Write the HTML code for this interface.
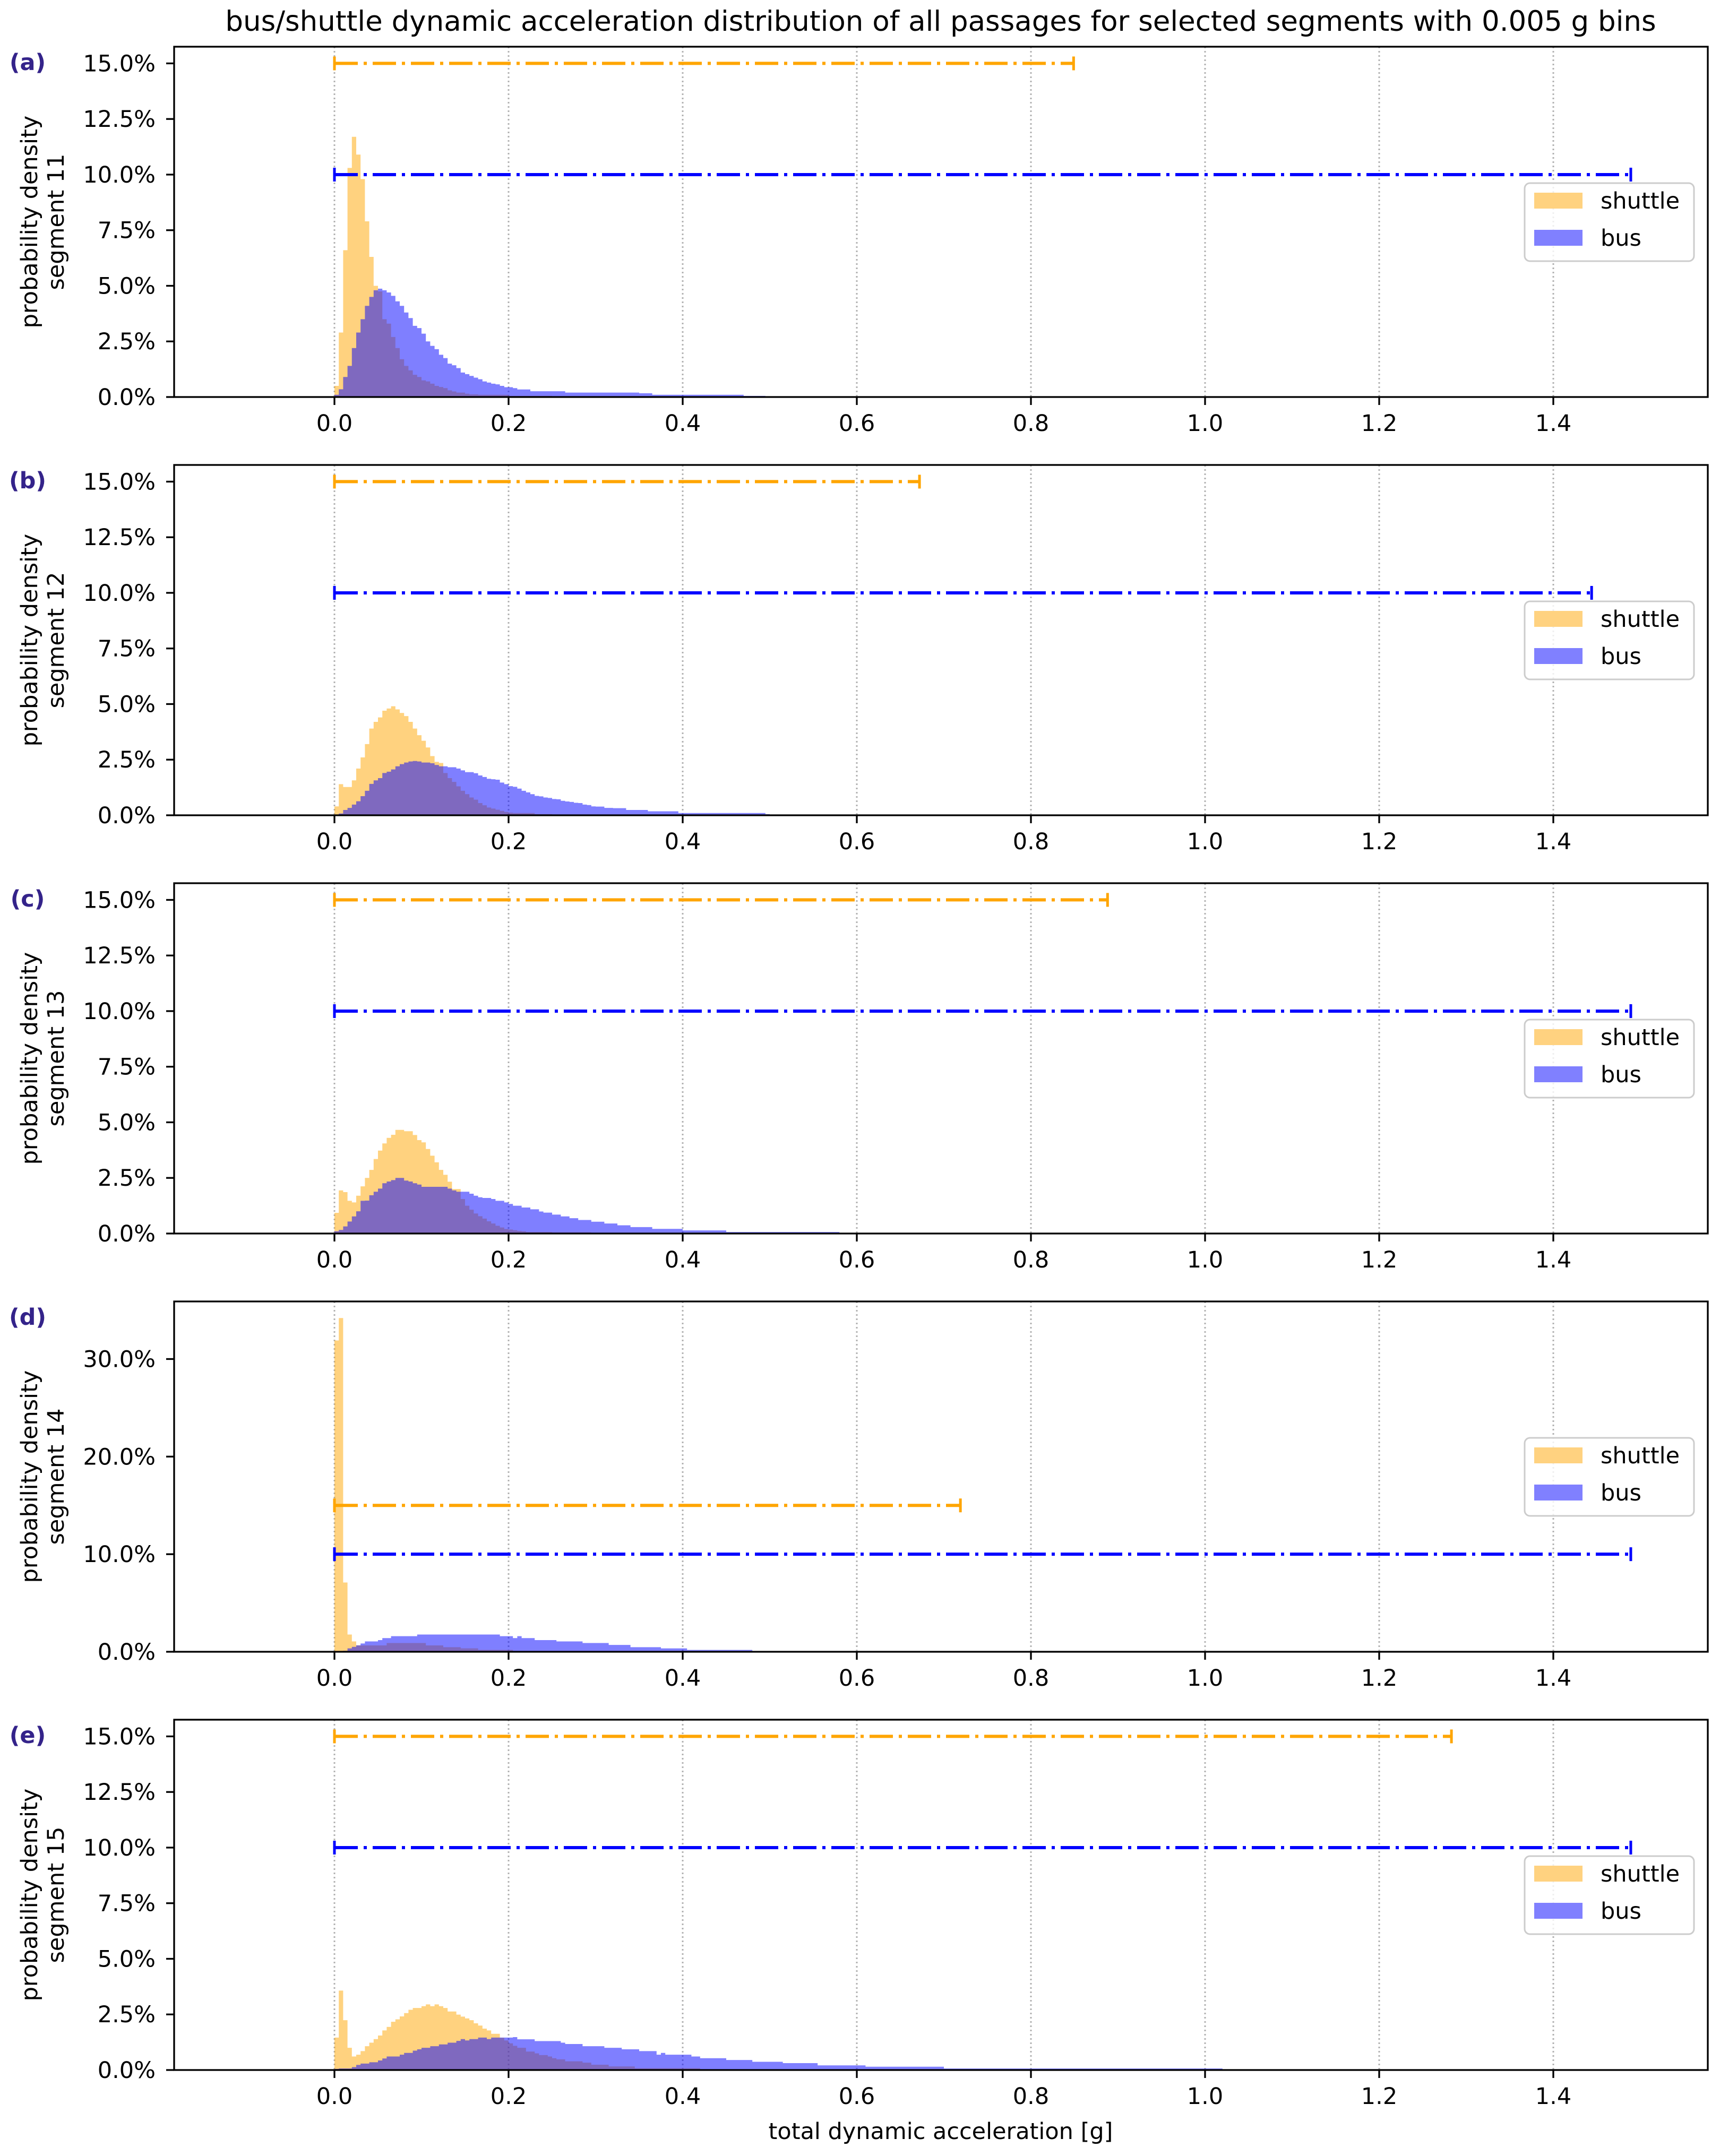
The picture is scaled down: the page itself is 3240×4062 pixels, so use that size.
<!DOCTYPE html>
<html><head><meta charset="utf-8"><style>
html,body{margin:0;padding:0;background:#fff;}
svg{display:block;font-family:"DejaVu Sans","Liberation Sans",sans-serif;}
</style></head><body>
<svg id="chart" xmlns="http://www.w3.org/2000/svg" width="3240" height="4062" viewBox="0 0 3240 4062">
<rect x="0" y="0" width="3240" height="4062" fill="#fff"/>
<text x="1772" y="58" text-anchor="middle" font-size="53" fill="#000">bus/shuttle dynamic acceleration distribution of all passages for selected segments with 0.005 g bins</text>
<text x="1772" y="4030" text-anchor="middle" font-size="43" fill="#000">total dynamic acceleration [g]</text>
<g id="panels"></g>
</svg>
<script>
const binWidth = 0.005;
const xTicks = [0.0, 0.2, 0.4, 0.6, 0.8, 1.0, 1.2, 1.4];
const xTickLabels = ["0.0","0.2","0.4","0.6","0.8","1.0","1.2","1.4"];
const panelLetters = ["(a)","(b)","(c)","(d)","(e)"];
const segmentNames = ["segment 11","segment 12","segment 13","segment 14","segment 15"];
const yTicksStd = [0, 2.5, 5, 7.5, 10, 12.5, 15];
const yTicksD = [0, 10, 20, 30];
const yMaxes = [15.75, 15.75, 15.75, 35.9, 15.75];
const shuttleRangeEnd = [0.849, 0.672, 0.888, 0.719, 1.283];
const busRangeEnd = [1.489, 1.444, 1.489, 1.489, 1.489];
const shuttleRangeLevel = [15, 15, 15, 15, 15];
const busRangeLevel = [10, 10, 10, 10, 10];

const shuttleA = [0.5,2.9,6.6,10.3,11.7,10.9,9.8,7.9,6.3,5.0, 4.75,3.5,3.3,2.7,2.2,1.7,1.4,1.2,1.0,0.9, 0.75,0.7,0.6,0.5,0.45,0.4,0.3,0.25,0.2,0.2, 0.15,0.12,0.12,0.1,0.1,0.1,0.1,0.1,0.1,0.1, 0.05,0.05,0.05,0.05,0.05,0.05,0.05,0.05,0.05,0.05];
const busA = [0.1,0.35,0.9,1.4,2.2,2.9,3.5,4.1,4.5,4.8, 4.87,4.8,4.7,4.55,4.3,4.1,3.8,3.55,3.2,3.1, 2.85,2.5,2.3,2.15,1.9,1.75,1.5,1.43,1.3,1.1, 1.03,0.95,0.87,0.8,0.7,0.65,0.6,0.57,0.5,0.44, 0.44,0.4,0.34,0.34,0.34,0.26,0.26,0.26,0.26,0.26, 0.26,0.26,0.26,0.2,0.2,0.2,0.2,0.2,0.2,0.2, 0.2,0.2,0.2,0.2,0.2,0.2,0.2,0.2,0.2,0.2, 0.17,0.17,0.17,0.1,0.1,0.1,0.1,0.1,0.1,0.1, 0.1,0.1,0.1,0.1,0.1,0.1,0.1,0.1,0.1,0.1, 0.1,0.1,0.1,0.1,0.05,0.05,0.05,0.05,0.05];
const shuttleB = [0.4,1.4,1.27,1.27,1.57,2.1,2.6,3.2,3.9,4.2, 4.4,4.7,4.8,4.9,4.76,4.6,4.46,4.2,3.9,3.6, 3.35,3.05,2.66,2.4,2.35,1.9,1.67,1.5,1.3,1.1, 0.95,0.8,0.7,0.55,0.45,0.35,0.3,0.25,0.2,0.15, 0.12,0.1,0.1,0.1,0.1,0.1,0.05,0.05,0.05,0.05];
const busB = [0,0.08,0.24,0.33,0.48,0.63,0.86,1.1,1.41,1.57, 1.67,1.9,1.96,2.06,2.2,2.3,2.37,2.42,2.44,2.42, 2.37,2.37,2.34,2.26,2.2,2.2,2.16,2.16,2.1,2.02, 1.94,1.94,1.89,1.79,1.72,1.64,1.62,1.6,1.47,1.4, 1.31,1.28,1.2,1.1,1.03,0.95,0.87,0.85,0.8,0.78, 0.73,0.72,0.65,0.62,0.6,0.56,0.55,0.48,0.46,0.4, 0.39,0.39,0.33,0.33,0.32,0.32,0.32,0.24,0.24,0.24, 0.24,0.24,0.18,0.18,0.18,0.18,0.18,0.18,0.18,0.1, 0.1,0.1,0.1,0.1,0.1,0.1,0.1,0.1,0.1,0.1, 0.1,0.1,0.1,0.1,0.1,0.1,0.1,0.1,0.1,0.05];
const shuttleC = [0.93,1.94,1.86,1.47,1.4,1.7,2.12,2.5,2.86,3.35, 3.73,4.05,4.3,4.44,4.66,4.66,4.6,4.6,4.43,4.2, 4.1,3.8,3.5,3.2,2.86,2.64,2.33,2.0,2.0,1.55, 1.25,1.07,0.9,0.78,0.67,0.55,0.45,0.35,0.27,0.2, 0.18,0.15,0.12,0.1,0.07,0.07,0.07,0.07,0.07,0.07, 0.05,0.05,0.05,0.05,0.05,0.05,0.05,0.05,0.05];
const busC = [0.1,0.16,0.32,0.54,0.77,1.0,1.47,1.48,1.72,1.88, 2.02,2.26,2.34,2.4,2.5,2.5,2.38,2.34,2.26,2.2, 2.1,2.1,2.1,2.1,2.1,2.1,2.02,1.94,1.88,1.88, 1.88,1.79,1.7,1.63,1.6,1.6,1.55,1.47,1.47,1.4, 1.33,1.25,1.25,1.17,1.17,1.09,1.09,0.99,0.94,0.94, 0.85,0.85,0.77,0.77,0.69,0.69,0.61,0.61,0.61,0.53, 0.53,0.53,0.45,0.45,0.45,0.37,0.37,0.37,0.29,0.29, 0.29,0.29,0.29,0.21,0.21,0.21,0.21,0.21,0.21,0.21, 0.14,0.14,0.14,0.14,0.14,0.14,0.14,0.14,0.14,0.14, 0.07,0.07,0.07,0.07,0.07,0.07,0.07,0.07,0.07,0.07, 0.07,0.07,0.07,0.07,0.07,0.07,0.07,0.07,0.07,0.07, 0.07,0.07,0.07,0.07,0.07,0.07];
const shuttleD = [31.9,34.2,7.1,1.77,1.06,0.66,0.65,0.65,0.65,0.65, 0.65,0.65,0.9,0.9,0.9,0.9,0.9,0.9,0.9,0.9, 0.9,0.65,0.65,0.65,0.65,0.47,0.47,0.47,0.47,0.35, 0.35,0.35,0.35,0.2,0.2,0.2,0.2,0.2,0.2,0.2,0.2];
const busD = [0,0,0.1,0.35,0.5,0.66,0.85,1.06,1.06,1.06, 1.2,1.4,1.4,1.6,1.6,1.6,1.6,1.6,1.6,1.77, 1.77,1.77,1.77,1.77,1.77,1.77,1.77,1.77,1.77,1.77, 1.77,1.77,1.77,1.77,1.77,1.77,1.77,1.77,1.6,1.6, 1.6,1.4,1.6,1.4,1.4,1.4,1.2,1.2,1.2,1.2, 1.2,1.06,1.06,1.06,1.06,1.06,1.06,0.9,0.9,0.9, 0.9,0.9,0.9,0.7,0.7,0.7,0.7,0.7,0.47,0.47, 0.47,0.47,0.47,0.47,0.47,0.35,0.35,0.35,0.35,0.35, 0.35,0.19,0.19,0.19,0.19,0.19,0.19,0.19,0.19,0.19, 0.19,0.19,0.19,0.19,0.19,0.19];
const shuttleE = [1.46,3.57,2.24,1.0,0.61,0.69,0.85,1.07,1.23,1.39, 1.55,1.78,1.94,2.17,2.28,2.41,2.56,2.71,2.79,2.79, 2.87,2.95,2.87,2.95,2.87,2.79,2.63,2.63,2.49,2.4, 2.32,2.24,2.1,2.0,1.86,1.78,1.63,1.63,1.45,1.33, 1.2,1.09,1.0,1.0,0.83,0.83,0.75,0.67,0.67,0.61, 0.53,0.48,0.48,0.39,0.39,0.39,0.39,0.33,0.33,0.24, 0.24,0.24,0.24,0.16,0.16,0.16,0.16,0.16,0.16,0.08, 0.08,0.08,0.08,0.08,0.08,0.08,0.08,0.08,0.08,0.08, 0.08,0.08,0.08,0.08];
const busE = [0.05,0.07,0.07,0.07,0.13,0.23,0.29,0.29,0.35,0.35, 0.43,0.52,0.61,0.61,0.61,0.69,0.77,0.77,0.87,0.93, 1.0,1.0,1.07,1.07,1.15,1.15,1.23,1.23,1.31,1.39, 1.33,1.39,1.39,1.46,1.46,1.39,1.46,1.46,1.46,1.46, 1.46,1.48,1.38,1.38,1.38,1.38,1.3,1.3,1.3,1.3, 1.3,1.3,1.23,1.17,1.17,1.17,1.17,1.07,1.07,1.07, 1.07,1.07,1.0,1.0,1.0,1.0,0.93,0.93,0.93,0.93, 0.85,0.85,0.85,0.85,0.69,0.77,0.69,0.69,0.69,0.69, 0.69,0.69,0.61,0.61,0.53,0.53,0.53,0.53,0.53,0.53, 0.45,0.45,0.45,0.45,0.45,0.45,0.37,0.37,0.37,0.37, 0.37,0.37,0.37,0.31,0.31,0.31,0.31,0.31,0.31,0.31, 0.31,0.21,0.21,0.21,0.21,0.21,0.21,0.21,0.21,0.21, 0.21,0.21,0.15,0.15,0.15,0.15,0.15,0.15,0.15,0.15, 0.15,0.15,0.15,0.15,0.15,0.15,0.15,0.15,0.15,0.15, 0.07,0.07,0.07,0.07,0.07,0.07,0.07,0.07,0.07,0.07, 0.07,0.07,0.07,0.07,0.07,0.07,0.07,0.07,0.07,0.07, 0.07,0.07,0.07,0.07,0.07,0.07,0.07,0.07,0.07,0.07, 0.07,0.07,0.07,0.07,0.07,0.07,0.07,0.07,0.07,0.07, 0.07,0.07,0.07,0.07,0.07,0.07,0.07,0.07,0.07,0.07, 0.07,0.07,0.07,0.07,0.07,0.07,0.07,0.07,0.07,0.07, 0.07,0.07,0.07,0.07];

const shuttleSeries = [shuttleA, shuttleB, shuttleC, shuttleD, shuttleE];
const busSeries = [busA, busB, busC, busD, busE];

const NS = "http://www.w3.org/2000/svg";
const AX_L = 328, AX_R = 3217, AX_H = 660;
const panelTops = [88, 876, 1664, 2452, 3240];
function xScale(v){ return 630 + v * 1640; }
function mk(tag, attrs, parent){
  const e = document.createElementNS(NS, tag);
  for (const k in attrs) e.setAttribute(k, attrs[k]);
  parent.appendChild(e);
  return e;
}
const root = document.getElementById('panels');

for (let p = 0; p < 5; p++){
  const top = panelTops[p], bot = top + AX_H, ymax = yMaxes[p];
  const yScale = v => bot - v / ymax * AX_H;
  const g = mk('g', {}, root);
  
  

  for (let i = 0; i < xTicks.length; i++){
    const gl = mk('line', {x1: xScale(xTicks[i]), x2: xScale(xTicks[i]), y1: top, y2: bot, stroke: '#b0b0b0', 'stroke-width': 3, 'stroke-dasharray': '3,5'}, g);
    
    
  }
  // histograms as step polygons
  const series = [[shuttleSeries[p], '#ffa500', 'shuttle'], [busSeries[p], '#0000ff', 'bus']];
  for (const [vals, col, nm] of series){
    let d = 'M' + xScale(0) + ' ' + bot;
    for (let i = 0; i < vals.length; i++){
      const y = yScale(Math.max(0, vals[i]));
      d += ' L' + xScale(i * binWidth) + ' ' + y + ' L' + xScale((i + 1) * binWidth) + ' ' + y;
    }
    d += ' L' + xScale(vals.length * binWidth) + ' ' + bot + ' Z';
    const path = mk('path', {d: d, fill: col, 'fill-opacity': 0.5}, g);
    
    
  }
  const ranges = [[shuttleRangeLevel[p], shuttleRangeEnd[p], '#ffa500', 'shuttle'], [busRangeLevel[p], busRangeEnd[p], '#0000ff', 'bus']];
  for (const [lvl, end, col, nm] of ranges){
    const y = yScale(lvl);
    const rg = mk('g', {stroke: col, 'stroke-width': 6}, g);
    
    
    mk('line', {x1: xScale(0), x2: xScale(end), y1: y, y2: y, 'stroke-dasharray': '44,11,6,11'}, rg);
    mk('line', {x1: xScale(0), x2: xScale(0), y1: y - 13, y2: y + 13, 'stroke-width': 5}, rg);
    mk('line', {x1: xScale(end), x2: xScale(end), y1: y - 13, y2: y + 13, 'stroke-width': 5}, rg);
  }
  const fr = mk('rect', {x: AX_L, y: top, width: AX_R - AX_L, height: AX_H, fill: 'none', stroke: '#000', 'stroke-width': 3.3}, g);
  
  
  for (let i = 0; i < xTicks.length; i++){
    const x = xScale(xTicks[i]);
    mk('line', {x1: x, x2: x, y1: bot, y2: bot + 15, stroke: '#000', 'stroke-width': 3.3}, g);
    const t = mk('text', {x: x, y: bot + 64, 'text-anchor': 'middle', 'font-size': 43, fill: '#000'}, g);
    t.textContent = xTickLabels[i];
    
    
  }
  const yt = p === 3 ? yTicksD : yTicksStd;
  for (const v of yt){
    const y = yScale(v);
    mk('line', {x1: AX_L - 15, x2: AX_L, y1: y, y2: y, stroke: '#000', 'stroke-width': 3.3}, g);
    const t = mk('text', {x: AX_L - 35, y: y + 15, 'text-anchor': 'end', 'font-size': 43, fill: '#000'}, g);
    t.textContent = v.toFixed(1) + '%';
    
    
  }
  const cy = top + AX_H / 2;
  const yl = mk('text', {transform: `translate(70 ${cy}) rotate(-90)`, 'text-anchor': 'middle', 'font-size': 43, fill: '#000'}, g);
  
  
  const t1 = mk('tspan', {x: 0, y: 0}, yl); t1.textContent = 'probability density';
  const t2 = mk('tspan', {x: 0, y: 50}, yl); t2.textContent = segmentNames[p];
  const pl = mk('text', {x: 52, y: top + 44, 'text-anchor': 'middle', 'font-size': 43, 'font-weight': 'bold', fill: '#34238a'}, g);
  pl.textContent = panelLetters[p];
  
  
  const lg = mk('g', {}, g);
  
  
  mk('rect', {x: 2872, y: top + 257, width: 319, height: 147, rx: 10, fill: '#fff', 'fill-opacity': 0.8, stroke: '#cccccc', 'stroke-width': 3}, lg);
  const entries = [['shuttle', '#ffd280', 290], ['bus', '#8080ff', 360]];
  for (const [lab, col, dy] of entries){
    const e = mk('g', {}, lg);
    
    
    mk('rect', {x: 2890, y: top + dy - 15, width: 91, height: 30, fill: col}, e);
    const tt = mk('text', {x: 3015, y: top + dy + 15, 'font-size': 43, fill: '#000'}, e);
    tt.textContent = lab;
  }
}
</script>
</body></html>
